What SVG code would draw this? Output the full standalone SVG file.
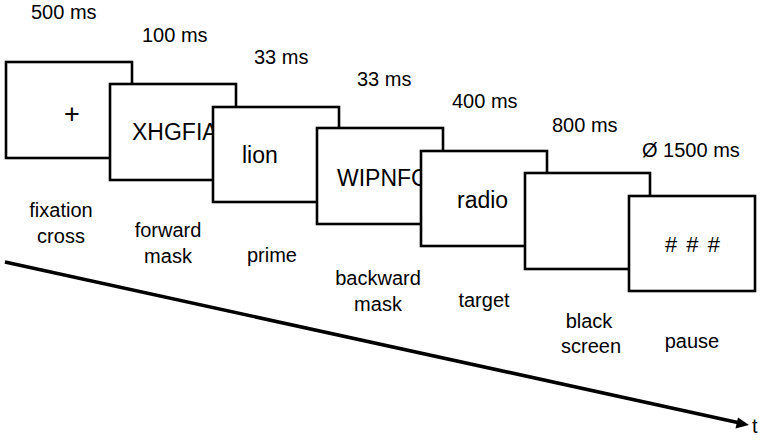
<svg xmlns="http://www.w3.org/2000/svg" width="768" height="442" viewBox="0 0 768 442">
<style>
.box{fill:#fff;stroke:#000;stroke-width:2.6}
.lbl{font-family:"Liberation Sans",Arial,sans-serif;font-size:20px;fill:#000}
.in{font-family:"Liberation Sans",Arial,sans-serif;font-size:23px;fill:#000}
.c{text-anchor:middle}
</style>
<rect width="768" height="442" fill="#fff"/>
<g id="timings">
<text class="lbl" x="31" y="19">500 ms</text>
<text class="lbl" x="142" y="42">100 ms</text>
<text class="lbl" x="254" y="64">33 ms</text>
<text class="lbl" x="357" y="86">33 ms</text>
<text class="lbl" x="452" y="108">400 ms</text>
<text class="lbl" x="552" y="132">800 ms</text>
<text class="lbl" x="642" y="157">Ø 1500 ms</text>
</g>
<g id="fixation">
<rect class="box" x="6" y="62" width="126" height="96"/>
<text class="in c" x="72" y="123" style="font-size:27px">+</text>
</g>
<g id="forward-mask">
<rect class="box" x="110" y="84" width="126" height="96"/>
<text class="in" x="132" y="140">XHGFIA</text>
</g>
<g id="prime">
<rect class="box" x="213" y="107" width="126" height="95"/>
<text class="in" x="242" y="163">lion</text>
</g>
<g id="backward-mask">
<rect class="box" x="317" y="128" width="126" height="96"/>
<text class="in" x="337" y="186">WIPNFC</text>
</g>
<g id="target">
<rect class="box" x="421" y="151" width="126" height="95"/>
<text class="in" x="457" y="208">radio</text>
</g>
<g id="black-screen">
<rect class="box" x="525" y="173" width="125" height="96"/>
</g>
<g id="pause">
<rect class="box" x="629" y="196" width="126" height="95"/>
<text class="in" x="665" y="252" style="font-size:22px;letter-spacing:1.5px">#  #  #</text>
</g>
<g id="captions">
<text class="lbl c" x="61" y="217">fixation</text>
<text class="lbl c" x="61" y="243">cross</text>
<text class="lbl c" x="168" y="237">forward</text>
<text class="lbl c" x="168" y="263">mask</text>
<text class="lbl c" x="272" y="262">prime</text>
<text class="lbl c" x="378" y="285">backward</text>
<text class="lbl c" x="378" y="311">mask</text>
<text class="lbl c" x="484" y="307">target</text>
<text class="lbl c" x="589" y="328">black</text>
<text class="lbl c" x="591" y="353">screen</text>
<text class="lbl c" x="692" y="348">pause</text>
</g>
<g id="connectors">
<line x1="5" y1="262" x2="740" y2="423" stroke="#000" stroke-width="3.6"/>
<polygon points="749,425 738,417.5 735.5,428.5" fill="#000"/>
<text class="lbl" x="752" y="433">t</text>
</g>
</svg>
